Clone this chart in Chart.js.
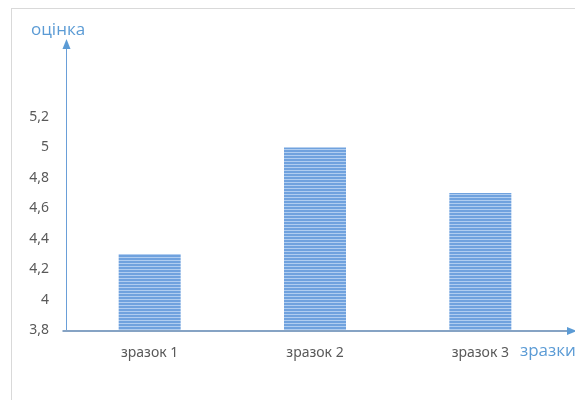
<!DOCTYPE html>
<html>
<head>
<meta charset="utf-8">
<script src="https://cdn.jsdelivr.net/npm/chart.js@4"></script>
<style>
  html, body { margin: 0; padding: 0; background: #fff; }
  #wrap { width: 575px; height: 400px; position: relative; }
</style>
</head>
<body>
<div id="wrap"><canvas id="c" width="575" height="400"></canvas></div>
<script>
const categories = ['зразок 1', 'зразок 2', 'зразок 3'];
const scores = [4.3, 5.0, 4.7];
const yMin = 3.8;
const yMaxTick = 5.2;
const yAxisTop = 5.7;
const yStep = 0.2;
const yTitle = 'оцінка';
const xTitle = 'зразки';

function stripePattern() {
  const p = document.createElement('canvas');
  p.width = 8; p.height = 3;
  const g = p.getContext('2d');
  g.fillStyle = '#70a2de';
  g.fillRect(0, 0, 8, 2);
  g.fillStyle = '#b0cdf0';
  g.fillRect(0, 2, 8, 1);
  return g.createPattern(p, 'repeat');
}

const decor = {
  id: 'decor',
  beforeDraw(chart) {
    const ctx = chart.ctx;
    ctx.save();
    ctx.strokeStyle = '#d9d9d9';
    ctx.lineWidth = 1;
    ctx.strokeRect(11.5, 8.5, 700, 500);
    ctx.restore();
  },
  afterDraw(chart) {
    const ctx = chart.ctx;
    const y = chart.scales.y;
    const x0 = Math.round(y.right) - 0.5;
    const yBottom = y.getPixelForValue(yMin);
    const yTop = y.getPixelForValue(yAxisTop);
    ctx.save();
    // y axis
    ctx.strokeStyle = '#6a9fd8';
    ctx.fillStyle = '#5b9bd5';
    ctx.lineWidth = 1;
    ctx.beginPath();
    ctx.moveTo(x0, yBottom);
    ctx.lineTo(x0, yTop + 6);
    ctx.stroke();
    ctx.beginPath();
    ctx.moveTo(x0, yTop - 2);
    ctx.lineTo(x0 - 4, yTop + 8);
    ctx.lineTo(x0 + 4, yTop + 8);
    ctx.closePath();
    ctx.fill();
    // x axis
    ctx.strokeStyle = '#86a3c4';
    ctx.lineWidth = 2;
    ctx.beginPath();
    ctx.moveTo(x0 - 4, yBottom + 1);
    ctx.lineTo(568, yBottom + 1);
    ctx.stroke();
    ctx.fillStyle = '#5b9bd5';
    ctx.beginPath();
    ctx.moveTo(577, yBottom + 1);
    ctx.lineTo(567, yBottom - 3);
    ctx.lineTo(567, yBottom + 5);
    ctx.closePath();
    ctx.fill();
    // titles
    ctx.fillStyle = '#5b9bd5';
    ctx.font = '17px "Open Sans"';
    ctx.textBaseline = 'middle';
    ctx.textAlign = 'left';
    ctx.fillText(yTitle, 31, 30);
    ctx.fillText(xTitle, 520, 351);
    ctx.restore();
  }
};

new Chart(document.getElementById('c'), {
  type: 'bar',
  data: {
    labels: categories,
    datasets: [{
      data: scores,
      backgroundColor: stripePattern(),
      borderWidth: 0,
      categoryPercentage: 1,
      barPercentage: 0.375
    }]
  },
  options: {
    responsive: false,
    animation: false,
    events: [],
    layout: { padding: { top: 41, right: 12, left: 0, bottom: 0 } },
    plugins: { legend: { display: false }, tooltip: { enabled: false } },
    scales: {
      x: {
        grid: { display: false, drawTicks: false },
        border: { display: false },
        ticks: { color: '#595959', font: { family: 'Noto Sans', size: 14 }, padding: 15, maxRotation: 0 },
        afterFit(s) { s.height = 70; }
      },
      y: {
        min: yMin,
        max: yAxisTop,
        grid: { display: false, drawTicks: false },
        border: { display: false },
        ticks: {
          stepSize: yStep,
          color: '#595959',
          font: { family: 'Noto Sans', size: 14 },
          padding: 18,
          callback: v => String(Number(v.toFixed(1))).replace('.', ',')
        },
        afterBuildTicks(s) {
          s.ticks = s.ticks.filter(t => t.value <= yMaxTick + 1e-6);
        },
        afterFit(s) { s.width = 67; }
      }
    }
  },
  plugins: [decor]
});
</script>
</body>
</html>
